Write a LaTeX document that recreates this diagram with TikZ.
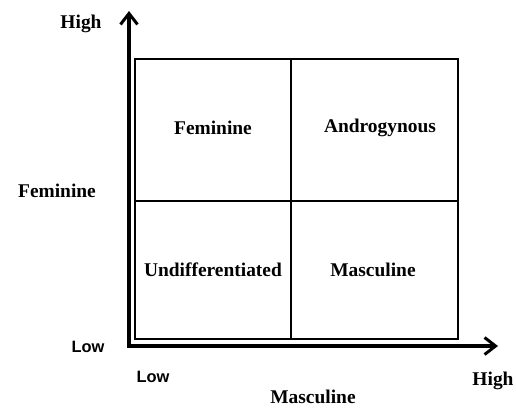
\documentclass[tikz,border=0pt]{standalone}
\usepackage{fontspec}
\setmainfont{Liberation Serif}
\newfontfamily\lowfont{Liberation Sans}
\usetikzlibrary{arrows.meta}
\begin{document}
\begin{tikzpicture}[x=1bp,y=-1bp,
  lbl/.style={font=\fontsize{19.5}{21}\selectfont\bfseries, inner sep=0pt},
  lowlbl/.style={font=\lowfont\fontsize{16.5}{18}\selectfont\bfseries, inner sep=0pt},
  axis/.style={line width=3.5bp, -{Straight Barb[length=11bp,width=17bp,line width=3bp]}},
  grid/.style={line width=2.8bp}]
\useasboundingbox (0,0) rectangle (516,409);
\coordinate (O) at (129,346);
\coordinate (Ytop) at (129,11);
\coordinate (Xend) at (498,346);
\draw[axis] (O) -- (Ytop);
\draw[axis] ([xshift=-1.75bp]O) -- (Xend);
\coordinate (B1) at (135,59);
\coordinate (B2) at (458,339);
\coordinate (Mt) at (291,59);
\coordinate (Mb) at (291,339);
\coordinate (Ml) at (135,201);
\coordinate (Mr) at (458,201);
\draw[grid] (B1) rectangle (B2);
\draw[grid] (Mt) -- (Mb);
\draw[grid] (Ml) -- (Mr);
\node[lbl] (fem) at (213,128) {Feminine};
\node[lbl] (andr) at (380,128) {Androgynous};
\node[lbl] (undiff) at (213,270) {Undifferentiated};
\node[lbl] (masc) at (373,270) {Masculine};
\node[lbl] (hightop) at (81,24) {High};
\node[lbl] (femaxis) at (57,191) {Feminine};
\node[lowlbl] (lowleft) at (88,347) {Low};
\node[lowlbl] (lowbot) at (153,377) {Low};
\node[lbl] (highbot) at (493,381) {High};
\node[lbl] (mascaxis) at (313,397) {Masculine};
\end{tikzpicture}
\end{document}
